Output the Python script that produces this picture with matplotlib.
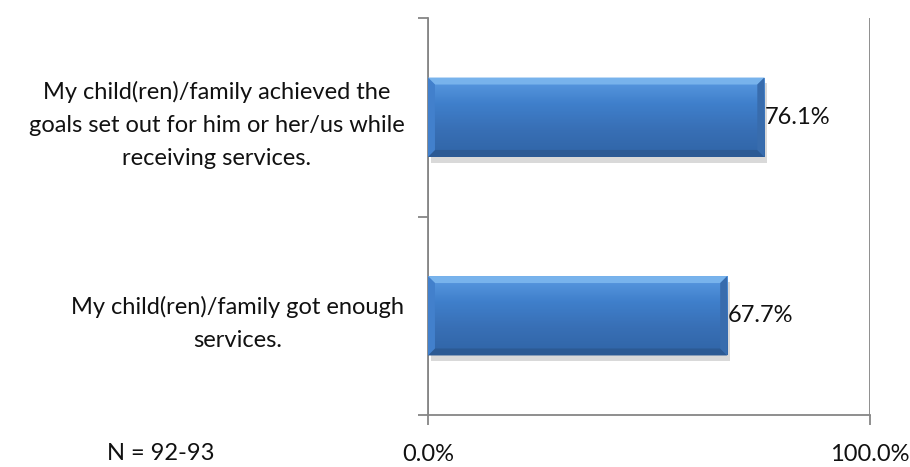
import numpy as np
import matplotlib.pyplot as plt
from matplotlib.patches import Polygon
from matplotlib.colors import LinearSegmentedColormap
import matplotlib.patheffects as pe

plt.rcParams['font.family'] = ['Lato', 'DejaVu Sans']

statements = [
    "My child(ren)/family achieved the\ngoals set out for him or her/us while\nreceiving services.",
    "My child(ren)/family got enough\nservices.",
]
percents = [76.1, 67.7]
x_ticks = [0, 100]
x_tick_labels = ["0.0%", "100.0%"]
n_note = "N = 92-93"

axis_grey = "#868686"
txt = "#111111"
fs = 17

fig = plt.figure(figsize=(9.10, 4.67), dpi=100)
ax = fig.add_axes([0.4703, 0.1113, 0.4857, 0.8502])

ypos = np.arange(len(statements))
bars = ax.barh(ypos, percents, height=0.4, color="#3F7FCB", zorder=3,
               path_effects=[pe.SimplePatchShadow(offset=(2, -4), shadow_rgbFace="#a0a0a0", alpha=0.4),
                             pe.Normal()])

ax.set_xlim(0, 100)
ax.set_ylim(len(statements) - 0.5, -0.5)

# px -> data conversion for the bevel edges
px_x = 100 / ax.bbox.width
px_y = 1.0 / (ax.bbox.height / len(statements))
bx, by = 7 * px_x, 7 * px_y

grad = LinearSegmentedColormap.from_list("bar", ["#5B9BE2", "#3F7FCB", "#386FB5", "#3065A7"])
for bar in bars:
    x0, w = bar.get_x(), bar.get_width()
    y0, h = bar.get_y(), bar.get_height()
    top, bot = y0, y0 + h  # y axis is inverted, so y0 is the upper edge
    img = ax.imshow(np.linspace(0, 1, 64).reshape(-1, 1), cmap=grad, aspect="auto",
                    extent=(x0, x0 + w, bot, top), zorder=4, interpolation="bilinear")
    img.set_clip_path(bar)
    # bevelled edges
    ax.add_patch(Polygon([(x0, top), (x0 + w, top), (x0 + w - bx, top + by), (x0 + bx, top + by)],
                         closed=True, color="#78B3EC", lw=0, zorder=5))
    ax.add_patch(Polygon([(x0, bot), (x0 + w, bot), (x0 + w - bx, bot - by), (x0 + bx, bot - by)],
                         closed=True, color="#2C5A94", lw=0, zorder=5))
    ax.add_patch(Polygon([(x0 + w, top), (x0 + w, bot), (x0 + w - bx, bot - by), (x0 + w - bx, top + by)],
                         closed=True, color="#386CAD", lw=0, zorder=5))
    ax.add_patch(Polygon([(x0, top), (x0, bot), (x0 + bx, bot - by), (x0 + bx, top + by)],
                         closed=True, color="#4280CC", lw=0, zorder=5))
    ax.text(x0 + w + 0.1, y0 + h / 2, f"{w:.1f}%", va="center", ha="left",
            fontsize=fs, color=txt, zorder=6)

# category ticks sit between the bars
ax.set_yticks(ypos)
ax.set_yticklabels(statements, fontsize=fs, color=txt)
for lab in ax.get_yticklabels():
    lab.set_multialignment("center")
    lab.set_linespacing(1.7)
ax.tick_params(axis="y", which="major", length=0, pad=17)
ax.set_yticks(np.arange(-0.5, len(statements)), minor=True)
ax.tick_params(axis="y", which="minor", length=7, color=axis_grey, width=1.3)

ax.set_xticks(x_ticks)
ax.set_xticklabels(x_tick_labels, fontsize=fs, color=txt)
ax.tick_params(axis="x", length=7, color=axis_grey, width=1.3, pad=14)
ax.grid(axis="x", color=axis_grey, lw=1.3, zorder=0)
ax.set_axisbelow(True)

for side in ["top", "right"]:
    ax.spines[side].set_visible(False)
for side in ["left", "bottom"]:
    ax.spines[side].set_color(axis_grey)
    ax.spines[side].set_linewidth(1.3)

fig.text(161 / 910, 1 - 453 / 467, n_note, ha="center", va="center", fontsize=fs, color=txt)

fig.savefig("out.png", dpi=100)
plt.close(fig)
